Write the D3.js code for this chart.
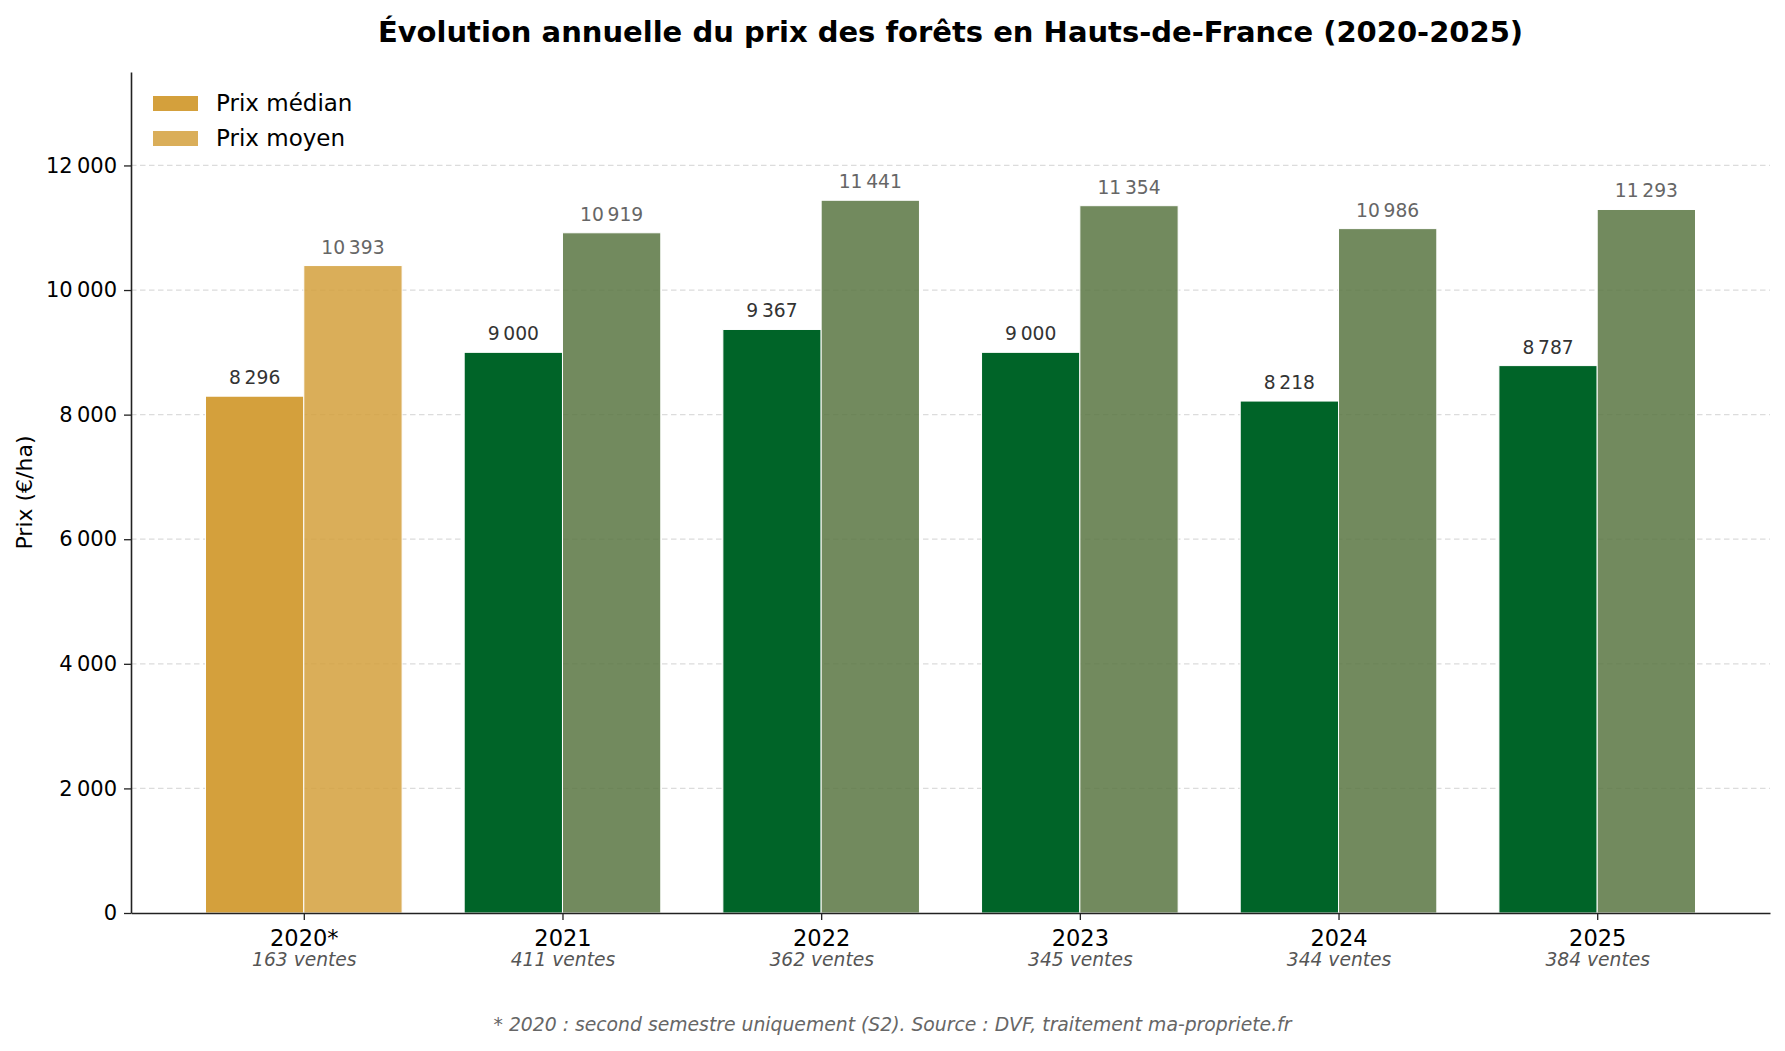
<!DOCTYPE html>
<html>
<head>
<meta charset="utf-8">
<script src="https://cdn.jsdelivr.net/npm/d3@7"></script>
<style>
  body { margin: 0; background: #fff; }
  text { font-family: "DejaVu Sans", sans-serif; }
  .axis path, .axis line { stroke: #222; }
</style>
</head>
<body>
<div id="chart"></div>
<script>
var years  = ["2020*", "2021", "2022", "2023", "2024", "2025"];
var ventes = [163, 411, 362, 345, 344, 384];
var median = [8296, 9000, 9367, 9000, 8218, 8787];
var moyen  = [10393, 10919, 11441, 11354, 10986, 11293];
var yTicks = [0, 2000, 4000, 6000, 8000, 10000, 12000];

var W = 1785, H = 1051;
var margin = {top: 72, right: 15, bottom: 138, left: 131},
  width = W - margin.left - margin.right,
  height = H - margin.top - margin.bottom;

var fr = d3.formatLocale({decimal: ",", thousands: "\u202F", grouping: [3], currency: ["", " €"]});
var fmt = fr.format(",d");

var x = d3.scaleLinear().domain([-0.668, 5.668]).range([0, width]);
var y = d3.scaleLinear().domain([0, 13500]).range([height, 0]);
var barW = x(0.38) - x(0);

var colMed = function(i) { return i === 0 ? "#D4A03C" : "#006428"; };
var colMoy = function(i) { return i === 0 ? "#D4A03C" : "#597542"; };

var svg = d3.select("#chart").append("svg")
  .attr("width", W)
  .attr("height", H);

svg.append("text")
  .attr("x", margin.left + width / 2)
  .attr("y", 42)
  .attr("text-anchor", "middle")
  .style("font-size", "29px")
  .style("font-weight", "bold")
  .text("Évolution annuelle du prix des forêts en Hauts-de-France (2020-2025)");

var g = svg.append("g")
  .attr("transform", "translate(" + margin.left + "," + margin.top + ")");

// grid
g.selectAll(".grid")
  .data(yTicks.filter(function(d) { return d > 0; }))
  .enter().append("line")
  .attr("class", "grid")
  .attr("x1", 0).attr("x2", width)
  .attr("y1", function(d) { return y(d); })
  .attr("y2", function(d) { return y(d); })
  .style("stroke", "#dcdcdc")
  .style("stroke-width", 1.3)
  .style("stroke-dasharray", "5.5,3.5");

var groups = g.selectAll(".year")
  .data(years)
  .enter().append("g")
  .attr("class", "year");

groups.append("rect")
  .attr("x", function(d, i) { return x(i) - barW; })
  .attr("y", function(d, i) { return y(median[i]); })
  .attr("width", barW)
  .attr("height", function(d, i) { return height - y(median[i]); })
  .style("fill", function(d, i) { return colMed(i); })
  .style("stroke", "#fff")
  .style("stroke-width", 1);

groups.append("rect")
  .attr("x", function(d, i) { return x(i); })
  .attr("y", function(d, i) { return y(moyen[i]); })
  .attr("width", barW)
  .attr("height", function(d, i) { return height - y(moyen[i]); })
  .style("fill", function(d, i) { return colMoy(i); })
  .style("fill-opacity", 0.85)
  .style("stroke", "#fff")
  .style("stroke-width", 1);

groups.append("text")
  .attr("x", function(d, i) { return x(i) - barW / 2; })
  .attr("y", function(d, i) { return y(median[i]) - 12; })
  .attr("text-anchor", "middle")
  .style("font-size", "18.7px")
  .style("fill", "#333")
  .text(function(d, i) { return fmt(median[i]); });

groups.append("text")
  .attr("x", function(d, i) { return x(i) + barW / 2; })
  .attr("y", function(d, i) { return y(moyen[i]) - 12; })
  .attr("text-anchor", "middle")
  .style("font-size", "18.7px")
  .style("fill", "#666")
  .text(function(d, i) { return fmt(moyen[i]); });

// axes
var xAxis = g.append("g")
  .attr("class", "axis")
  .attr("transform", "translate(0," + height + ")")
  .call(d3.axisBottom(x)
    .tickValues(d3.range(years.length))
    .tickSize(7)
    .tickSizeOuter(0)
    .tickFormat(function(i) { return years[i]; }));
xAxis.select(".domain").style("stroke-width", 1.6);
xAxis.selectAll(".tick line").style("stroke-width", 1.3);
xAxis.selectAll(".tick text")
  .attr("y", 16)
  .attr("dy", "0.76em")
  .style("font-size", "22.5px")
  .style("fill", "#000");

xAxis.selectAll(".tick").append("text")
  .attr("y", 53)
  .attr("text-anchor", "middle")
  .style("font-size", "18.7px")
  .style("font-style", "italic")
  .style("fill", "#555")
  .text(function(i) { return ventes[i] + " ventes"; });

var yAxis = g.append("g")
  .attr("class", "axis")
  .call(d3.axisLeft(y)
    .tickValues(yTicks)
    .tickSize(7)
    .tickSizeOuter(0)
    .tickFormat(fmt));
yAxis.select(".domain").style("stroke-width", 1.6);
yAxis.selectAll(".tick line").style("stroke-width", 1.3);
yAxis.selectAll(".tick text")
  .attr("x", -14)
  .style("font-size", "21px")
  .style("fill", "#000");

svg.append("text")
  .attr("transform", "translate(32," + (margin.top + height / 2) + ") rotate(-90)")
  .attr("text-anchor", "middle")
  .style("font-size", "22px")
  .text("Prix (€/ha)");

// legend
var legendItems = [
  {name: "Prix médian", color: "#D4A03C", op: 1},
  {name: "Prix moyen", color: "#D4A03C", op: 0.85}
];
var legend = svg.selectAll(".legend")
  .data(legendItems)
  .enter().append("g")
  .attr("class", "legend")
  .attr("transform", function(d, i) { return "translate(153," + (96 + i * 35) + ")"; });
legend.append("rect")
  .attr("width", 45)
  .attr("height", 15)
  .style("fill", function(d) { return d.color; })
  .style("fill-opacity", function(d) { return d.op; });
legend.append("text")
  .attr("x", 63)
  .attr("y", 15)
  .style("font-size", "23px")
  .text(function(d) { return d.name; });

svg.append("text")
  .attr("x", W / 2)
  .attr("y", 1031)
  .attr("text-anchor", "middle")
  .style("font-size", "18.8px")
  .style("font-style", "italic")
  .style("fill", "#666")
  .text("* 2020 : second semestre uniquement (S2). Source : DVF, traitement ma-propriete.fr");
</script>
</body>
</html>
